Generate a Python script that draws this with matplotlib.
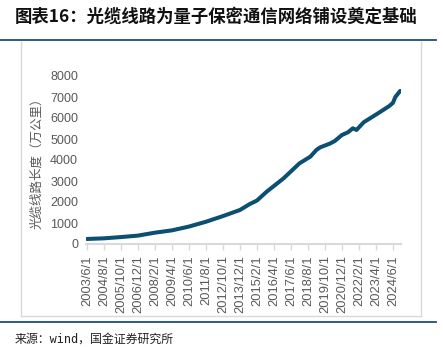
import matplotlib
matplotlib.use("Agg")
import matplotlib.pyplot as plt
import pandas as pd
from matplotlib.lines import Line2D

# optical cable line length (10k km)
dates = ["2003-06", "2004-08", "2005-10", "2006-12", "2008-02", "2009-04",
         "2010-06", "2011-08", "2012-10", "2013-12", "2014-08", "2015-02",
         "2015-10", "2016-12", "2018-01", "2018-10", "2019-03", "2019-06",
         "2020-02", "2020-06", "2020-12", "2021-05", "2021-09", "2021-12",
         "2022-06", "2022-11", "2023-07", "2024-03", "2024-06", "2024-08",
         "2024-12"]
values = [240, 270, 330, 400, 540, 650,
          830, 1060, 1330, 1620, 1900, 2070,
          2490, 3130, 3840, 4160, 4480, 4600,
          4780, 4900, 5190, 5320, 5510, 5430,
          5800, 5980, 6270, 6570, 6720, 7000,
          7290]

title = "图表16：光缆线路为量子保密通信网络铺设奠定基础"
ylabel = "光缆线路长度（万公里）"
source = "来源：wind，国金证券研究所"

CJK = ["Noto Sans CJK SC", "DejaVu Sans"]
NAVY = "#1f4e79"
LINE = "#0b4f71"
GREY = "#d9d9d9"
TXT = "#595959"

W, H = 443, 347
fig = plt.figure(figsize=(W / 100, H / 100), dpi=100)

# monthly category axis starting 2003/6
start = pd.Period("2003-06", "M")
months = pd.period_range("2003-06", "2024-12", freq="M")
xs = [(pd.Period(d, "M") - start).n for d in dates]
tick_pos = list(range(0, len(months), 14))
tick_lab = [f"{months[i].year}/{months[i].month}/1" for i in tick_pos]

ax_l, ax_r, ax_t, ax_b = 86.4, 400.8, 76, 244
ax = fig.add_axes([ax_l / W, 1 - ax_b / H, (ax_r - ax_l) / W, (ax_b - ax_t) / H])
ax.plot(xs, values, color=LINE, lw=2.9, solid_capstyle="round", solid_joinstyle="round")
ax.set_xlim(-0.5, 258.5)
ax.set_ylim(0, 8000)
ax.set_yticks(range(0, 8001, 1000))
ax.set_xticks(tick_pos)
ax.set_xticklabels(tick_lab, rotation=90, fontfamily="Liberation Sans", fontsize=9.3, color=TXT)
for lab in ax.get_yticklabels():
    lab.set_fontfamily("Liberation Sans")
ax.tick_params(axis="y", length=0, pad=6, labelsize=9, labelcolor=TXT)
ax.tick_params(axis="x", length=4, width=1, color=GREY, direction="out", pad=4)
for s in ["top", "right", "left"]:
    ax.spines[s].set_visible(False)
ax.spines["bottom"].set_color(GREY)
ax.spines["bottom"].set_linewidth(1.5)
ax.set_ylabel(ylabel, family=CJK, fontsize=9, color=TXT)
# label baseline sits at ~x=43px so the glyphs centre near x=37
ax.yaxis.set_label_coords((43 - ax_l) / (ax_r - ax_l), 0.5)

# frame box and the two navy rules
def px_line(x0, y0, x1, y1, color, lw):
    fig.add_artist(Line2D([x0 / W, x1 / W], [1 - y0 / H, 1 - y1 / H],
                          color=color, lw=lw, transform=fig.transFigure))

px_line(20.5, 42, 20.5, 316, GREY, 1.0)
px_line(420.5, 42, 420.5, 316, GREY, 1.0)
px_line(20.5, 316, 420.5, 316, GREY, 1.0)
px_line(0, 40, 436, 40, NAVY, 1.3)
px_line(0, 322, 436, 322, NAVY, 1.3)

fig.text(15 / W, 1 - 17 / H, title, family=CJK, fontsize=12.5, fontweight="bold",
         color="#111111", ha="left", va="center")
fig.text(15 / W, 1 - 339 / H, source, family=["DejaVu Sans Mono", "Noto Sans CJK SC"],
         fontsize=8.6, color="#222222", ha="left", va="center")

fig.savefig("out.png", dpi=100)
